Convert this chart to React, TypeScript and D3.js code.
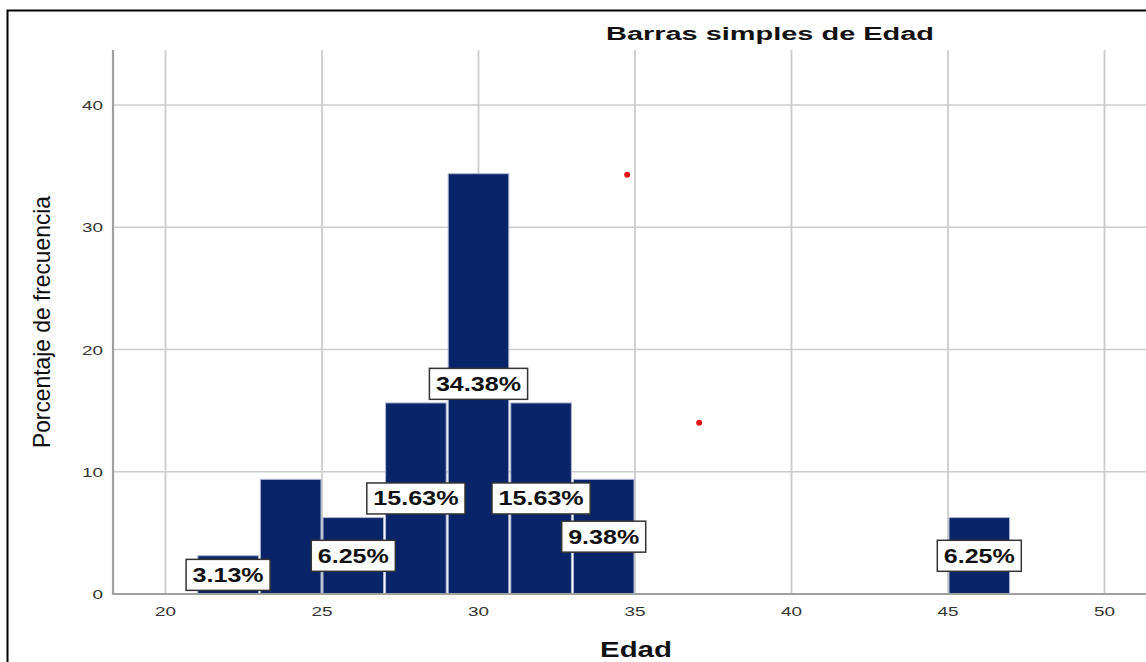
import React from "react";
import * as d3 from "d3";

const binStart = [21, 23, 25, 27, 29, 31, 33, 45];
const binEnd = [23, 25, 27, 29, 31, 33, 35, 47];
const percents = [3.13, 9.38, 6.25, 15.63, 34.38, 15.63, 9.38, 6.25];
const showLabel = [true, false, true, true, true, true, true, true];
const xTicks = [20, 25, 30, 35, 40, 45, 50];
const yTicks = [0, 10, 20, 30, 40];
const dotX = [34.75, 37.05];
const dotY = [34.3, 14.0];

const W = 1146;
const H = 662;

export default function App() {
  const x = d3.scaleLinear().domain([20, 50]).range([165.5, 1104.5]);
  const y = d3.scaleLinear().domain([0, 40]).range([594, 105]);
  const plotLeft = 113;
  const plotTop = 50;
  const plotRight = W;
  const font = "'Liberation Sans', Arial, sans-serif";

  return (
    <svg
      width={W}
      height={H}
      style={{ position: "absolute", left: 0, top: 0, background: "#fff" }}
    >
      <rect x={0} y={0} width={W} height={H} fill="#fff" />
      {/* frame */}
      <rect x={7.5} y={10.5} width={1300} height={800} fill="none" stroke="#000" strokeWidth={2} />

      {/* horizontal gridlines */}
      {yTicks.filter((t) => t > 0).map((t) => (
        <line key={"hy" + t} x1={plotLeft} x2={plotRight} y1={y(t)} y2={y(t)} stroke="#cccccc" strokeWidth={1.6} />
      ))}
      {/* vertical gridlines */}
      {xTicks.map((t) => (
        <line key={"vx" + t} x1={x(t)} x2={x(t)} y1={plotTop} y2={y(0)} stroke="#cccccc" strokeWidth={1.8} />
      ))}

      {/* bars */}
      {percents.map((p, i) => (
        <rect
          key={"b" + i}
          x={x(binStart[i]) + 1}
          y={y(p)}
          width={x(binEnd[i]) - x(binStart[i]) - 2}
          height={y(0) - y(p)}
          fill="#0a246a"
          stroke="#aeb8d2"
          strokeWidth={1}
        />
      ))}

      {/* axes */}
      <line x1={plotLeft} x2={plotLeft} y1={plotTop} y2={y(0) + 1} stroke="#a0a0a0" strokeWidth={2.2} />
      <line x1={plotLeft} x2={plotRight} y1={y(0)} y2={y(0)} stroke="#a0a0a0" strokeWidth={2} />

      {/* y tick labels */}
      {yTicks.map((t) => {
        const s = String(t);
        return (
          <text
            key={"yt" + t}
            x={103}
            y={y(t) + 5}
            textAnchor="end"
            fontFamily={font}
            fontSize={13}
            fill="#333"
            textLength={s.length * 10.5}
            lengthAdjust="spacingAndGlyphs"
          >
            {s}
          </text>
        );
      })}
      {/* x tick labels */}
      {xTicks.map((t) => (
        <text
          key={"xt" + t}
          x={x(t)}
          y={616}
          textAnchor="middle"
          fontFamily={font}
          fontSize={13}
          fill="#333"
          textLength={21}
          lengthAdjust="spacingAndGlyphs"
        >
          {String(t)}
        </text>
      ))}

      {/* value labels */}
      {percents.map((p, i) => {
        if (!showLabel[i]) return null;
        const s = p.toFixed(2) + "%";
        const tl = s.length * 14.2;
        const bw = tl + 13;
        const bh = 31;
        const cx = x((binStart[i] + binEnd[i]) / 2);
        const cy = y(p / 2);
        return (
          <g key={"l" + i}>
            <rect x={cx - bw / 2} y={cy - bh / 2} width={bw} height={bh} fill="#fff" stroke="#333" strokeWidth={1.5} />
            <text
              x={cx}
              y={cy + 7}
              textAnchor="middle"
              fontFamily={font}
              fontWeight="bold"
              fontSize={19.5}
              fill="#111"
              textLength={tl}
              lengthAdjust="spacingAndGlyphs"
            >
              {s}
            </text>
          </g>
        );
      })}

      {/* red points */}
      {dotX.map((dx, i) => (
        <circle key={"d" + i} cx={x(dx)} cy={y(dotY[i])} r={3} fill="#e8141a" />
      ))}

      {/* title */}
      <text
        x={770}
        y={40}
        textAnchor="middle"
        fontFamily={font}
        fontWeight="bold"
        fontSize={18}
        fill="#111"
        textLength={328}
        lengthAdjust="spacingAndGlyphs"
      >
        Barras simples de Edad
      </text>

      {/* x axis title */}
      <text
        x={636}
        y={657}
        textAnchor="middle"
        fontFamily={font}
        fontWeight="bold"
        fontSize={22}
        fill="#111"
        textLength={72}
        lengthAdjust="spacingAndGlyphs"
      >
        Edad
      </text>

      {/* y axis title */}
      <text
        transform={`translate(50,322) rotate(-90)`}
        textAnchor="middle"
        fontFamily={font}
        fontSize={24}
        fill="#111"
        textLength={252}
        lengthAdjust="spacingAndGlyphs"
      >
        Porcentaje de frecuencia
      </text>
    </svg>
  );
}
